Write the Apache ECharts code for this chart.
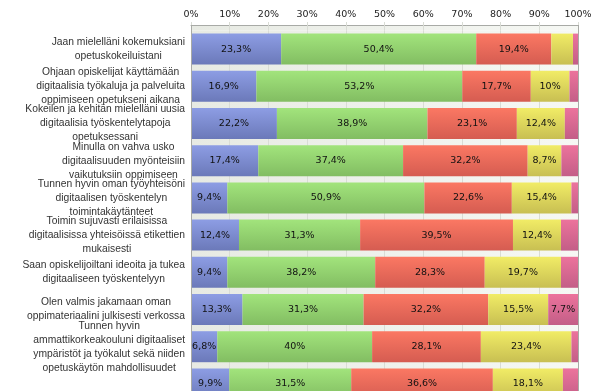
<!DOCTYPE html>
<html><head><meta charset="utf-8">
<script src="https://cdn.jsdelivr.net/npm/echarts@6/dist/echarts.min.js"></script>
<style>html,body{margin:0;padding:0;background:#fff}#c{width:608px;height:391px}</style>
</head><body><div id="c"></div>
<script>
var categories = [
  "Jaan mielelläni kokemuksiani\nopetuskokeiluistani",
  "Ohjaan opiskelijat käyttämään\ndigitaalisia työkaluja ja palveluita\noppimiseen opetukseni aikana",
  "Kokeilen ja kehitän mielelläni uusia\ndigitaalisia työskentelytapoja\nopetuksessani",
  "Minulla on vahva usko\ndigitaalisuuden myönteisiin\nvaikutuksiin oppimiseen",
  "Tunnen hyvin oman työyhteisöni\ndigitaalisen työskentelyn\ntoimintakäytänteet",
  "Toimin sujuvasti erilaisissa\ndigitaalisissa yhteisöissä etikettien\nmukaisesti",
  "Saan opiskelijoiltani ideoita ja tukea\ndigitaaliseen työskentelyyn",
  "Olen valmis jakamaan oman\noppimateriaalini julkisesti verkossa",
  "Tunnen hyvin\nammattikorkeakouluni digitaaliset\nympäristöt ja työkalut sekä niiden\nopetuskäytön mahdollisuudet",
  "Tunnen hyvin oman alani\ntyöelämän digitaaliset työtavat"
];
var seriesBlue   = [23.3, 16.9, 22.2, 17.4, 9.4, 12.4, 9.4, 13.3, 6.8, 9.9];
var seriesGreen  = [50.4, 53.2, 38.9, 37.4, 50.9, 31.3, 38.2, 31.3, 40, 31.5];
var seriesRed    = [19.4, 17.7, 23.1, 32.2, 22.6, 39.5, 28.3, 32.2, 28.1, 36.6];
var seriesYellow = [5.6, 10, 12.4, 8.7, 15.4, 12.4, 19.7, 15.5, 23.4, 18.1];
var seriesPink   = [1.3, 2.2, 3.4, 4.3, 1.7, 4.4, 4.4, 7.7, 1.7, 3.9];
var xTicks = [0, 10, 20, 30, 40, 50, 60, 70, 80, 90, 100];

var G = {left: 191, top: 30.5, width: 387, height: 372, gap: 5.5};
var chart = echarts.init(document.getElementById('c'), null, {renderer: 'canvas'});

function grad(top, bottom) {
  return {type: 'linear', x: 0, y: 0, x2: 0, y2: 1, colorStops: [{offset: 0, color: top}, {offset: 1, color: bottom}]};
}
var bgGrad = {type: 'linear', x: 0, y: 0, x2: 1, y2: 0, colorStops: [{offset: 0, color: '#e7eae3'}, {offset: 1, color: '#f6f8f4'}]};

function mk(name, data, top, bottom) {
  return {
    name: name, type: 'bar', stack: 'all', data: data, barWidth: 31,
    itemStyle: {color: grad(top, bottom)},
    label: {
      show: true, position: 'inside', color: '#111',
      fontFamily: 'DejaVu Sans', fontSize: 9.5,
      formatter: function (p) { return p.value >= 6 ? String(p.value).replace('.', ',') + '%' : ''; }
    },
    emphasis: {disabled: true}
  };
}

var xCommon = {
  type: 'value', position: 'top', min: xTicks[0], max: xTicks[xTicks.length - 1], interval: 10, offset: G.gap
};

chart.setOption({
  animation: false,
  grid: {left: G.left, top: G.top, width: G.width, height: G.height, show: true, backgroundColor: bgGrad, borderWidth: 0,
    containLabel: false, outerBoundsMode: 'none'},
  graphic: [
    {type: 'rect', z: -1, shape: {x: G.left, y: G.top - G.gap, width: G.width, height: G.gap}, style: {fill: bgGrad}},
    {type: 'line', z: 10, shape: {x1: G.left + 0.5, y1: G.top - G.gap, x2: G.left + 0.5, y2: G.top + G.height}, style: {stroke: '#a8aaa6', lineWidth: 1}},
    {type: 'line', z: 10, shape: {x1: G.left + G.width + 0.5, y1: G.top - G.gap, x2: G.left + G.width + 0.5, y2: G.top + G.height}, style: {stroke: '#a8aaa6', lineWidth: 1}}
  ],
  xAxis: [
    Object.assign({}, xCommon, {
      axisLine: {show: true, lineStyle: {color: '#a8aaa6'}},
      axisTick: {show: true, inside: true, length: G.gap, lineStyle: {color: '#d9dcd5'}},
      splitLine: {show: true, lineStyle: {color: '#d9dcd5'}},
      axisLabel: {color: '#222', fontFamily: 'DejaVu Sans', fontSize: 9.5, margin: 5,
        formatter: function (v) { return v + '%'; }}
    }),
    Object.assign({}, xCommon, {
      axisLine: {show: false},
      axisTick: {show: true, inside: false, length: 3, lineStyle: {color: '#d9dcd5'}},
      splitLine: {show: false},
      axisLabel: {show: false}
    })
  ],
  yAxis: {
    type: 'category', inverse: true, data: categories,
    axisLine: {show: false}, axisTick: {show: false},
    axisLabel: {
      margin: 6, color: '#333', fontFamily: 'Liberation Sans', fontSize: 10.3, lineHeight: 14,
      formatter: function (v) { return v.split('\n').map(function (l) { return '{c|' + l + '}'; }).join('\n'); },
      rich: {c: {align: 'center', fontFamily: 'Liberation Sans', fontSize: 10.3, lineHeight: 14, color: '#333'}}
    }
  },
  series: [
    mk('s1', seriesBlue, '#8d9de4', '#6b79b9'),
    mk('s2', seriesGreen, '#a2e47c', '#82bd62'),
    mk('s3', seriesRed, '#fb7863', '#d55c51'),
    mk('s4', seriesYellow, '#f1ec66', '#c8bf52'),
    mk('s5', seriesPink, '#ec739c', '#c35e87')
  ]
});
</script>
</body></html>
